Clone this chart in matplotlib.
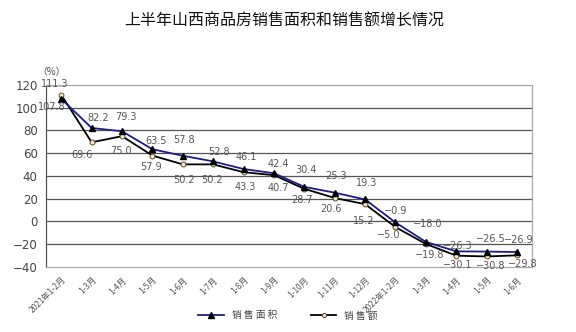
import matplotlib
matplotlib.use("Agg")
import matplotlib.pyplot as plt
from matplotlib.lines import Line2D

plt.rcParams['font.family'] = ['Noto Sans CJK SC', 'DejaVu Sans']
plt.rcParams['axes.unicode_minus'] = True

categories = ["2021年1-2月", "1-3月", "1-4月", "1-5月", "1-6月", "1-7月", "1-8月",
              "1-9月", "1-10月", "1-11月", "1-12月", "2022年1-2月", "1-3月",
              "1-4月", "1-5月", "1-6月"]
area = [107.8, 82.2, 79.3, 63.5, 57.8, 52.8, 46.1, 42.4, 30.4, 25.3, 19.3,
        -0.9, -18.0, -26.3, -26.5, -26.9]
sales = [111.3, 69.6, 75.0, 57.9, 50.2, 50.2, 43.3, 40.7, 28.7, 20.6, 15.2,
         -5.0, -19.8, -30.1, -30.8, -29.8]
yticks = [-40, -20, 0, 20, 40, 60, 80, 100, 120]

# label offsets in points (dx, dy) ; dy positive = up
area_off = [(-7, -6), (5, 7), (3, 10), (3, 6), (1, 11), (4, 7), (2, 9), (3, 7),
            (1, 12), (1, 12), (1, 12), (0, 8), (1, 13), (1, 4), (3, 9), (1, 9)]
sales_off = [(-5, 8), (-7, -9), (-1, -11), (-1, -8), (1, -11), (-1, -11), (1, -11),
             (3, -9), (-2, -8), (-3, -8), (-1, -12), (-5, -6), (3, -8), (1, -7),
             (3, -7), (4, -6)]

fig = plt.figure(figsize=(5.76, 3.32), dpi=100)
ax = fig.add_axes([0.08, 0.196, 0.844, 0.548])

x = list(range(len(categories)))
ax.plot(x, sales, color='black', lw=1.3, marker='o', ms=3.5,
        mfc='#f5ecd0', mec='#5a4a20', mew=0.7, zorder=3)
ax.plot(x, area, color='#1c1c8c', lw=1.3, marker='^', ms=5,
        mfc='black', mec='black', zorder=4)

def fmt(v):
    s = f"{v:.1f}"
    return s.replace('-', '\u2212')

for i, v in enumerate(area):
    dx, dy = area_off[i]
    ax.annotate(fmt(v), (i, v), xytext=(dx, dy), textcoords='offset points',
                ha='center', va='center', fontsize=7, color='#555555',
                family='DejaVu Sans', zorder=5)
for i, v in enumerate(sales):
    dx, dy = sales_off[i]
    ax.annotate(fmt(v), (i, v), xytext=(dx, dy), textcoords='offset points',
                ha='center', va='center', fontsize=7, color='#555555',
                family='DejaVu Sans', zorder=5)

ax.set_xlim(-0.5, len(categories) - 0.5)
ax.set_ylim(-40, 120)
ax.set_yticks(yticks)
ax.set_yticklabels([str(t).replace('-', '\u2212') for t in yticks],
                   fontsize=8.5, color='#444444', family='DejaVu Sans')
for t in yticks[1:-1]:
    ax.axhline(t, color='#555555', lw=0.9, zorder=1)
ax.set_xticks(x)
ax.set_xticklabels(categories, rotation=45, ha='right', va='top',
                   rotation_mode='anchor', fontsize=6, color='#555555')
ax.tick_params(axis='both', length=0)
ax.tick_params(axis='x', pad=6)
ax.tick_params(axis='y', pad=6)
for s in ['top', 'right', 'bottom']:
    ax.spines[s].set_color('#aaaaaa')
    ax.spines[s].set_linewidth(0.9)
ax.spines['left'].set_color('#555555')
ax.spines['left'].set_linewidth(0.9)

fig.text(0.493, 0.935, "上半年山西商品房销售面积和销售额增长情况", ha='center',
         va='center', fontsize=11.5, color='#111111')
fig.text(0.09, 1 - 72 / 332, "（%）", ha='center', va='center', fontsize=7,
         color='#444444')

handles = [Line2D([], [], color='#1c1c8c', lw=1.3, marker='^', ms=4,
                  mfc='black', mec='black'),
           Line2D([], [], color='black', lw=1.3, marker='o', ms=3,
                  mfc='#f5ecd0', mec='#5a4a20', mew=0.7)]
fig.legend(handles, ["销 售 面 积", "销 售 额"], loc='center',
           bbox_to_anchor=(0.5, 0.05), ncol=2, frameon=False, fontsize=7,
           handlelength=2.6, columnspacing=3.5, labelcolor='#444444')

fig.savefig("out.png", dpi=100)
